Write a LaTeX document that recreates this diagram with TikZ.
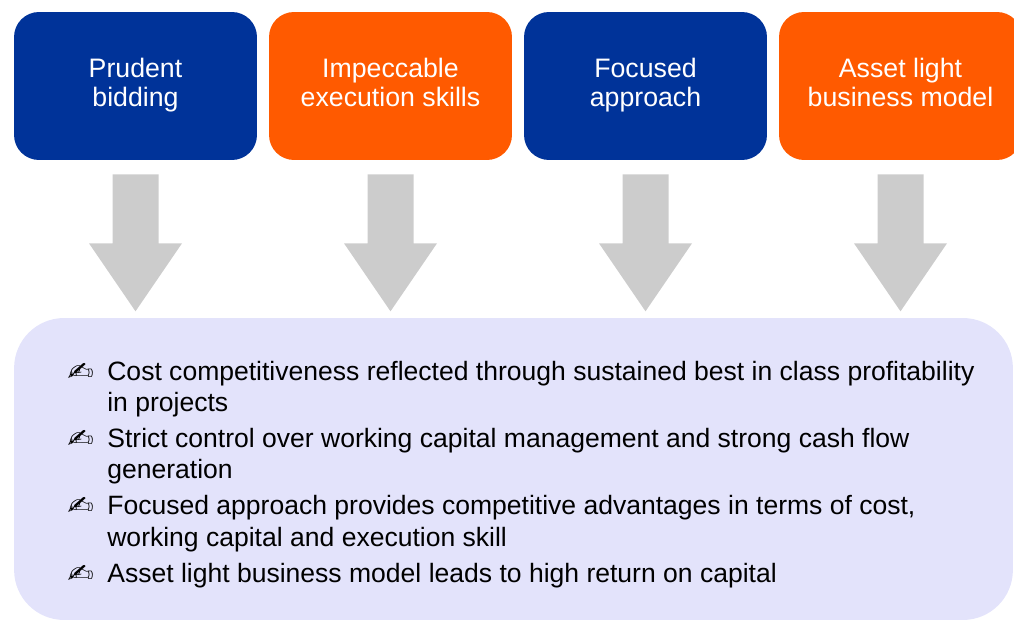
\documentclass[tikz,border=0pt]{standalone}
\usepackage{fontspec}
\setmainfont{Liberation Sans}
\newfontfamily\dejavu{DejaVu Sans}
\usetikzlibrary{calc}
\definecolor{boxblue}{RGB}{0,51,153}
\definecolor{boxorange}{RGB}{255,90,0}
\definecolor{arrowgray}{RGB}{204,204,204}
\definecolor{panel}{RGB}{227,227,251}
\newcommand{\hand}{\scalebox{1.2}[0.95]{\dejavu\char"270D}}

\begin{document}
\begin{tikzpicture}[x=0.02cm,y=-0.02cm,
    topbox/.style={fill=#1, text=white, rounded corners=0.5cm, minimum width=4.86cm,
      minimum height=2.96cm, align=center, inner sep=0pt, font=\fontsize{15.2}{16.5}\selectfont},
    downarrow/.style={fill=arrowgray}]
\useasboundingbox (0,0) rectangle (1014,621);
\clip (0,0) rectangle (1014,621);
% the four boxes across the top, left to right
\node[topbox=boxblue] (b1) at (135.5,86) {\strut Prudent\\bidding\strut};
\node[topbox=boxorange] (b2) at (390.5,86) {\strut Impeccable\\execution skills\strut};
\node[topbox=boxblue] (b3) at (645.5,86) {\strut Focused\\approach\strut};
\node[topbox=boxorange] (b4) at (900.5,86) {\strut Asset light\\business model\strut};
% block arrows under each box
\fill[downarrow] (b1.south) ++(-23,14) -- ++(0,69) -- ++(-23.5,0) -- ++(46.5,68) -- ++(46.5,-68) -- ++(-23.5,0) -- ++(0,-69) -- cycle;
\fill[downarrow] (b2.south) ++(-23,14) -- ++(0,69) -- ++(-23.5,0) -- ++(46.5,68) -- ++(46.5,-68) -- ++(-23.5,0) -- ++(0,-69) -- cycle;
\fill[downarrow] (b3.south) ++(-23,14) -- ++(0,69) -- ++(-23.5,0) -- ++(46.5,68) -- ++(46.5,-68) -- ++(-23.5,0) -- ++(0,-69) -- cycle;
\fill[downarrow] (b4.south) ++(-23,14) -- ++(0,69) -- ++(-23.5,0) -- ++(46.5,68) -- ++(46.5,-68) -- ++(-23.5,0) -- ++(0,-69) -- cycle;
% summary panel
\node[fill=panel, rounded corners=1cm, minimum width=19.98cm, minimum height=6.04cm, inner sep=0pt] (sum) at (513.5,469) {};
\node[anchor=base west, inner sep=0pt, font=\fontsize{15.1}{17.9}\selectfont] (points) at (67,380) {%
  \begin{tabular}[t]{@{}p{0.8cm}@{}l@{}}
  \hand & Cost competitiveness reflected through sustained best in class profitability\\
        & in projects\\[2.6pt]
  \hand & Strict control over working capital management and strong cash flow\\
        & generation\\[2.6pt]
  \hand & Focused approach provides competitive advantages in terms of cost,\\
        & working capital and execution skill\\[2.6pt]
  \hand & Asset light business model leads to high return on capital
  \end{tabular}};
\end{tikzpicture}
\end{document}
